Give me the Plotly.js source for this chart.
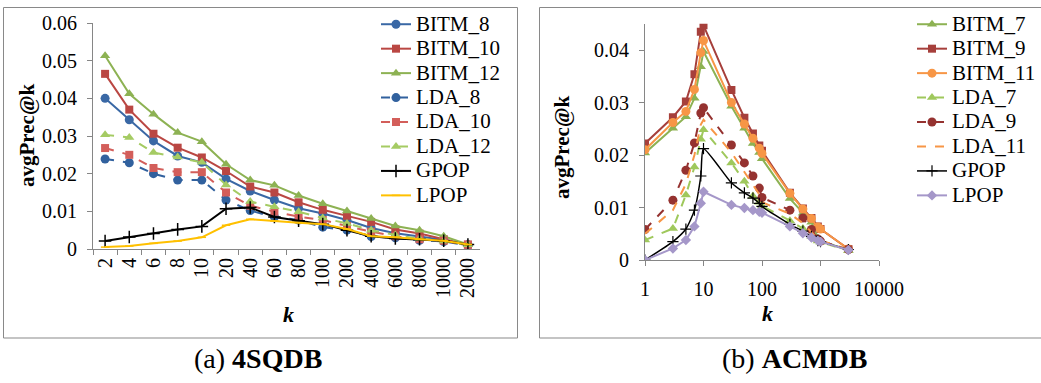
<!DOCTYPE html>
<html>
<head>
<meta charset="utf-8">
<script src="https://cdn.plot.ly/plotly-3.0.1.min.js"></script>
<style>html,body{margin:0;padding:0;background:#fff;}#chart{width:1041px;height:383px;}</style>
</head>
<body>
<div id="chart"></div>
<script>
// ---------- Data: (a) 4SQDB ----------
const kCats = ['2','4','6','8','10','20','40','60','80','100','200','400','600','800','1000','2000'];
const sq_BITM_8  = [0.0400,0.0343,0.0287,0.0247,0.0230,0.0186,0.0154,0.0130,0.0108,0.0094,0.0077,0.0056,0.0042,0.0033,0.0024,0.0011];
const sq_BITM_10 = [0.0465,0.0370,0.0306,0.0269,0.0243,0.0207,0.0166,0.0150,0.0124,0.0104,0.0088,0.0072,0.0052,0.0041,0.0026,0.0012];
const sq_BITM_12 = [0.0513,0.0412,0.0358,0.0309,0.0285,0.0225,0.0183,0.0169,0.0142,0.0120,0.0101,0.0081,0.0061,0.0050,0.0034,0.0012];
const sq_LDA_8   = [0.0239,0.0229,0.0200,0.0183,0.0183,0.0130,0.0102,0.0085,0.0077,0.0058,0.0050,0.0033,0.0030,0.0023,0.0020,0.0010];
const sq_LDA_10  = [0.0268,0.0250,0.0215,0.0204,0.0204,0.0150,0.0115,0.0099,0.0086,0.0077,0.0061,0.0046,0.0034,0.0026,0.0022,0.0011];
const sq_LDA_12  = [0.0303,0.0296,0.0256,0.0244,0.0230,0.0170,0.0126,0.0112,0.0099,0.0082,0.0068,0.0050,0.0037,0.0027,0.0021,0.0011];
const sq_GPOP    = [0.0021,0.0032,0.0041,0.0052,0.0060,0.0107,0.0110,0.0085,0.0075,0.0066,0.0050,0.0034,0.0028,0.0026,0.0022,0.0012];
const sq_LPOP    = [0.0005,0.0008,0.0015,0.0021,0.0031,0.0063,0.0079,0.0074,0.0070,0.0066,0.0053,0.0034,0.0031,0.0026,0.0022,0.0012];

// ---------- Data: (b) ACMDB ----------
const kVals = [1,3,5,7,9,10,30,50,70,90,100,300,500,700,900,1000,3000];
const ac_BITM_7  = [0.0204,0.0251,0.0273,0.0308,0.0368,0.0397,0.0293,0.0251,0.0222,0.0205,0.0193,0.0117,0.0089,0.0072,0.0042,0.0037,0.0018];
const ac_BITM_9  = [0.0222,0.0272,0.0302,0.0354,0.0435,0.0447,0.0324,0.0271,0.0241,0.0218,0.0208,0.0128,0.0098,0.0080,0.0064,0.0059,0.0021];
const ac_BITM_11 = [0.0210,0.0262,0.0283,0.0325,0.0395,0.0418,0.0300,0.0259,0.0232,0.0213,0.0203,0.0127,0.0097,0.0079,0.0063,0.0059,0.0021];
const ac_LDA_7   = [0.0038,0.0060,0.0124,0.0177,0.0230,0.0248,0.0185,0.0150,0.0122,0.0110,0.0103,0.0075,0.0060,0.0045,0.0036,0.0034,0.0018];
const ac_LDA_9   = [0.0058,0.0114,0.0171,0.0223,0.0280,0.0290,0.0219,0.0185,0.0160,0.0137,0.0119,0.0095,0.0080,0.0058,0.0040,0.0036,0.0020];
const ac_LDA_11  = [0.0050,0.0095,0.0145,0.0200,0.0258,0.0267,0.0205,0.0168,0.0145,0.0125,0.0110,0.0088,0.0070,0.0053,0.0040,0.0037,0.0020];
const ac_GPOP    = [0.0000,0.0035,0.0059,0.0095,0.0160,0.0212,0.0147,0.0128,0.0118,0.0108,0.0102,0.0068,0.0055,0.0045,0.0037,0.0035,0.0020];
const ac_LPOP    = [0.0000,0.0022,0.0038,0.0064,0.0108,0.0130,0.0105,0.0099,0.0095,0.0092,0.0090,0.0064,0.0051,0.0043,0.0037,0.0035,0.0019];

const yTickVals = [0,0.01,0.02,0.03,0.04,0.05,0.06];
const yTickText = ['0','0.01','0.02','0.03','0.04','0.05','0.06'];
const y2TickVals = [0,0.01,0.02,0.03,0.04];
const y2TickText = ['0','0.01','0.02','0.03','0.04'];
const x2TickVals = [1,10,100,1000,10000];
const x2TickText = ['1','10','100','1000','10000'];

// ---------- Helpers ----------
const W = 1041, H = 383;
const px = x => x / W;
const py = y => 1 - y / H;
const FONT = 'Liberation Serif';
const AX = '#868686';
const lgName = n => '<span style="font-size:21px">' + n + '</span>';

function tr(name, x, y, color, dash, symbol, msize, xa, ya, lg, extra) {
  const t = {
    type: 'scatter', mode: 'lines+markers', name: lgName(name), x: x, y: y,
    xaxis: xa, yaxis: ya, legend: lg,
    line: {color: color, width: 2, dash: dash},
    marker: {color: color, symbol: symbol, size: msize}
  };
  return Object.assign(t, extra || {});
}

const C = {
  blue: '#3A68A5', red: '#BA4743', green: '#8DB253',
  blueL: '#31619E', redL: '#D35E5A', greenL: '#A5CB63',
  gold: '#FFC000',
  acGreen: '#8DB253', acRed: '#A63F3B', acOrange: '#F79646',
  acGreenL: '#9FC85C', acRedL: '#953230', acPurple: '#A597C9'
};

const traces = [
  tr('BITM_8', kCats, sq_BITM_8, C.blue, 'solid', 'circle', 9, 'x', 'y', 'legend'),
  tr('BITM_10', kCats, sq_BITM_10, C.red, 'solid', 'square', 8, 'x', 'y', 'legend'),
  tr('BITM_12', kCats, sq_BITM_12, C.green, 'solid', 'triangle-up', 9, 'x', 'y', 'legend'),
  tr('LDA_8', kCats, sq_LDA_8, C.blueL, 'dash', 'circle', 9, 'x', 'y', 'legend'),
  tr('LDA_10', kCats, sq_LDA_10, C.redL, 'dash', 'square', 8, 'x', 'y', 'legend'),
  tr('LDA_12', kCats, sq_LDA_12, C.greenL, 'dash', 'triangle-up', 9, 'x', 'y', 'legend'),
  tr('GPOP', kCats, sq_GPOP, '#000000', 'solid', 'cross-thin', 9, 'x', 'y', 'legend',
     {marker: {color: '#000', symbol: 'cross-thin', size: 9, line: {color: '#000', width: 1.5}}}),
  tr('LPOP', kCats, sq_LPOP, C.gold, 'solid', 'line-ew', 6, 'x', 'y', 'legend',
     {marker: {color: C.gold, symbol: 'line-ew', size: 6, line: {color: C.gold, width: 1.5}}}),

  tr('BITM_7', kVals, ac_BITM_7, C.acGreen, 'solid', 'triangle-up', 9, 'x2', 'y2', 'legend2'),
  tr('BITM_9', kVals, ac_BITM_9, C.acRed, 'solid', 'square', 8, 'x2', 'y2', 'legend2'),
  tr('BITM_11', kVals, ac_BITM_11, C.acOrange, 'solid', 'circle', 9, 'x2', 'y2', 'legend2'),
  tr('LDA_7', kVals, ac_LDA_7, C.acGreenL, 'dash', 'triangle-up', 9, 'x2', 'y2', 'legend2'),
  tr('LDA_9', kVals, ac_LDA_9, C.acRedL, 'dash', 'circle', 9, 'x2', 'y2', 'legend2'),
  tr('LDA_11', kVals, ac_LDA_11, C.acOrange, 'dash', 'circle', 9, 'x2', 'y2', 'legend2', {mode: 'lines'}),
  tr('GPOP', kVals, ac_GPOP, '#000000', 'solid', 'cross-thin', 8, 'x2', 'y2', 'legend2',
     {line: {color: '#000', width: 1.5, shape: 'spline', smoothing: 0.6},
      marker: {color: '#000', symbol: 'cross-thin', size: 8, line: {color: '#000', width: 1.2}}}),
  tr('LPOP', kVals, ac_LPOP, C.acPurple, 'solid', 'diamond', 8, 'x2', 'y2', 'legend2')
];

const tickFont = {family: FONT, size: 20, color: '#000'};
const axisBase = {
  showline: true, linecolor: AX, linewidth: 1, ticks: 'outside', ticklen: 5,
  tickcolor: AX, tickwidth: 1, showgrid: false, zeroline: false, tickfont: tickFont,
  fixedrange: true
};

function ann(x, y, text, size, angle) {
  return {xref: 'paper', yref: 'paper', x: px(x), y: py(y), xanchor: 'center', yanchor: 'middle',
          text: text, textangle: angle || 0, showarrow: false,
          font: {family: FONT, size: size, color: '#000'}};
}

const layout = {
  width: W, height: H,
  margin: {l: 0, r: 0, t: 0, b: 0},
  paper_bgcolor: '#fff', plot_bgcolor: 'rgba(0,0,0,0)',
  font: {family: FONT, color: '#000'},
  xaxis: Object.assign({}, axisBase, {
    domain: [px(93), px(480)], anchor: 'y', type: 'category',
    range: [-0.5, kCats.length - 0.5], tickson: 'boundaries', tickangle: -90
  }),
  yaxis: Object.assign({}, axisBase, {
    domain: [py(249), py(23)], anchor: 'x', range: [0, 0.06],
    tickvals: yTickVals, ticktext: yTickText, ticklabelstandoff: 6
  }),
  xaxis2: Object.assign({}, axisBase, {
    domain: [px(645), px(879)], anchor: 'y2', type: 'log', range: [0, 4],
    tickvals: x2TickVals, ticktext: x2TickText, ticklabelstandoff: 6
  }),
  yaxis2: Object.assign({}, axisBase, {
    domain: [py(260), py(23.75)], anchor: 'x2', range: [0, 0.045],
    tickvals: y2TickVals, ticktext: y2TickText, ticklabelstandoff: 6
  }),
  legend: {
    x: px(376), y: py(7), xanchor: 'left', yanchor: 'top',
    bgcolor: 'rgba(0,0,0,0)', font: {family: FONT, size: 16.5, color: '#000'},
    tracegroupgap: 0, itemwidth: 30
  },
  legend2: {
    x: px(912), y: py(7), xanchor: 'left', yanchor: 'top',
    bgcolor: 'rgba(0,0,0,0)', font: {family: FONT, size: 16.5, color: '#000'},
    tracegroupgap: 0, itemwidth: 30
  },
  shapes: [
    {type: 'rect', xref: 'paper', yref: 'paper', x0: px(3.5), x1: px(517.5), y0: py(338), y1: py(7.5),
     line: {color: '#898989', width: 1}, fillcolor: 'rgba(0,0,0,0)', layer: 'below'},
    {type: 'rect', xref: 'paper', yref: 'paper', x0: px(539.5), x1: px(1060), y0: py(338), y1: py(7.5),
     line: {color: '#898989', width: 1}, fillcolor: 'rgba(0,0,0,0)', layer: 'below'}
  ],
  annotations: [
    ann(27, 136, '<b>avgPrec@k</b>', 21, -90),
    ann(562, 148, '<b>avgPrec@k</b>', 21, -90),
    ann(288, 314, '<b><i>k</i></b>', 22),
    ann(767, 313, '<b><i>k</i></b>', 22),
    ann(258, 358, '(a) <b>4SQDB</b>', 28),
    ann(794, 358, '(b) <b>ACMDB</b>', 28)
  ]
};

Plotly.newPlot('chart', traces, layout, {displayModeBar: false, staticPlot: true});
</script>
</body>
</html>
